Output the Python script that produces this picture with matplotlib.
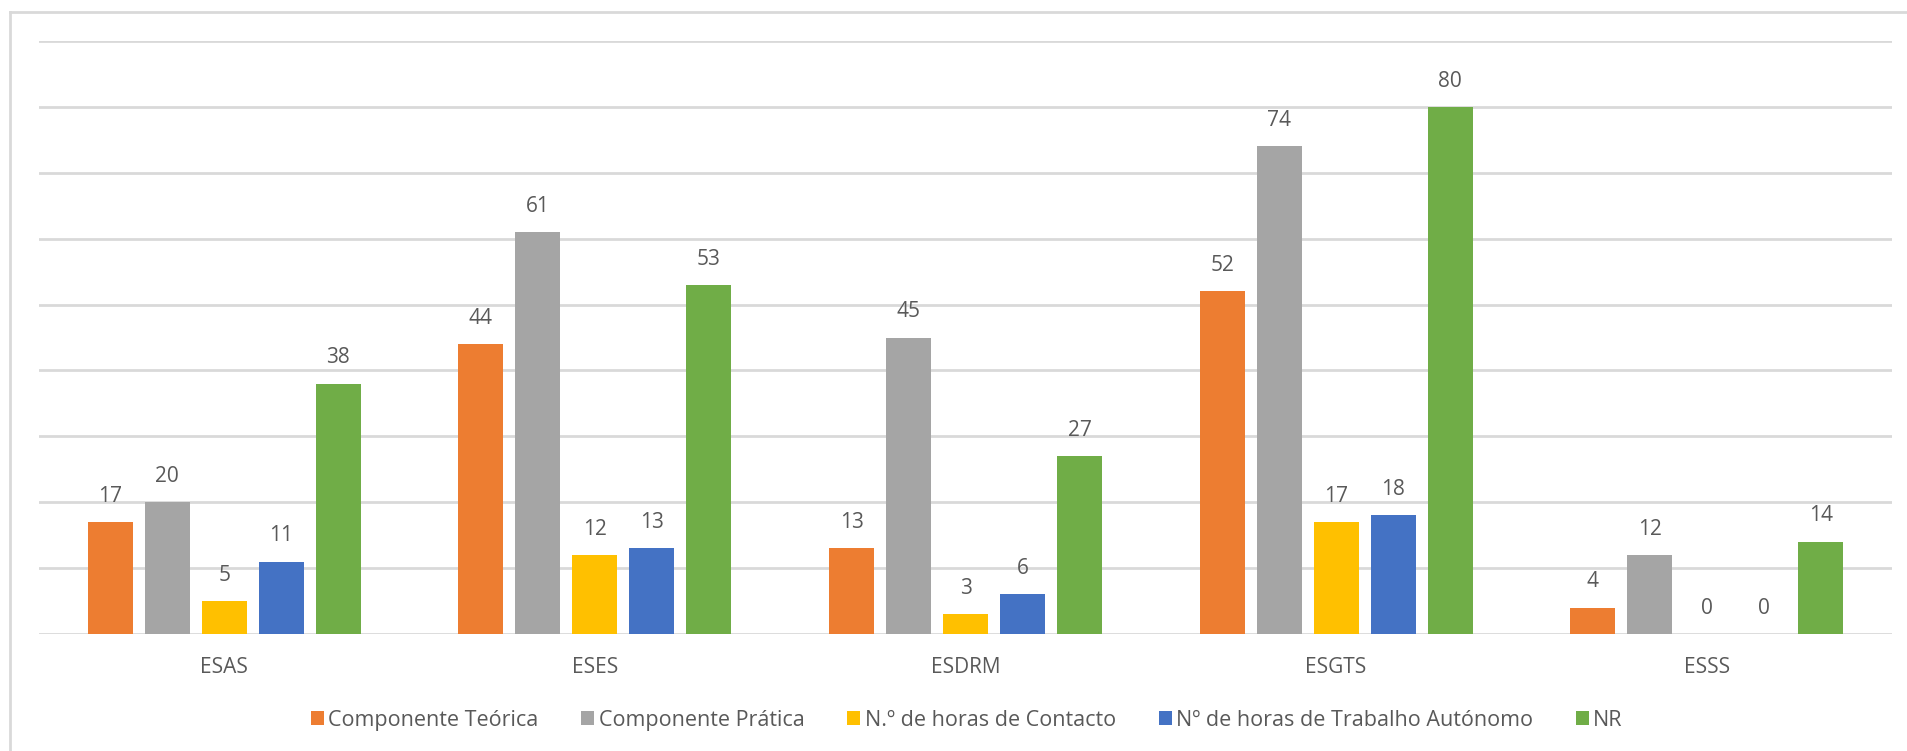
import numpy as np
import matplotlib.pyplot as plt
from matplotlib.lines import Line2D

# data
categories = ["ESAS", "ESES", "ESDRM", "ESGTS", "ESSS"]
series_names = ["Componente Teórica", "Componente Prática", "N.º de horas de Contacto",
                "Nº de horas de Trabalho Autónomo", "NR"]
teorica = [17, 44, 13, 52, 4]
pratica = [20, 61, 45, 74, 12]
contacto = [5, 12, 3, 17, 0]
autonomo = [11, 13, 6, 18, 0]
nr = [38, 53, 27, 80, 14]
colors = ["#ED7D31", "#A5A5A5", "#FFC000", "#4472C4", "#70AD47"]

plt.rcParams['font.family'] = ['Open Sans', 'DejaVu Sans']
TXT = "#595959"
GRID = "#D9D9D9"

fig = plt.figure(figsize=(19.07, 7.51), dpi=100)
ax = fig.add_axes([39/1907, 1 - 634/751, (1892 - 39)/1907, (634 - 41)/751])

x = np.arange(len(categories))
width = 0.1214
pitch = 0.1538
for i, (vals, name, c) in enumerate(zip([teorica, pratica, contacto, autonomo, nr], series_names, colors)):
    pos = x + (i - 2) * pitch
    bars = ax.bar(pos, vals, width, color=c, label=name, zorder=3)
    for b, v in zip(bars, vals):
        ax.annotate(str(v), (b.get_x() + b.get_width()/2, v), xytext=(0, 11),
                    textcoords="offset points", ha="center", va="bottom",
                    fontsize=15, color=TXT)

ax.set_xlim(-0.5, len(categories) - 0.5)
ax.set_ylim(0, 90)
ax.set_yticks(np.arange(0, 91, 10))
ax.yaxis.grid(True, color=GRID, linewidth=2)
ax.set_axisbelow(True)
ax.tick_params(axis='y', left=False, labelleft=False)
ax.tick_params(axis='x', bottom=False, pad=13, labelsize=15, labelcolor=TXT)
ax.set_xticks(x)
ax.set_xticklabels(categories)
for s in ax.spines.values():
    s.set_visible(False)

fig.legend(loc="center", bbox_to_anchor=(0.507, 0.041), ncol=5, frameon=False,
           fontsize=15.5, labelcolor=TXT, handlelength=0.6, handleheight=0.6,
           handletextpad=0.2, columnspacing=2.0)

# outer chart frame (left and top visible in the crop)
fig.add_artist(Line2D([10/1907, 10/1907], [0, 1 - 12/751], color=GRID, linewidth=2, transform=fig.transFigure))
fig.add_artist(Line2D([10/1907, 1], [1 - 12/751, 1 - 12/751], color=GRID, linewidth=2, transform=fig.transFigure))

fig.savefig("out.png", dpi=100)
